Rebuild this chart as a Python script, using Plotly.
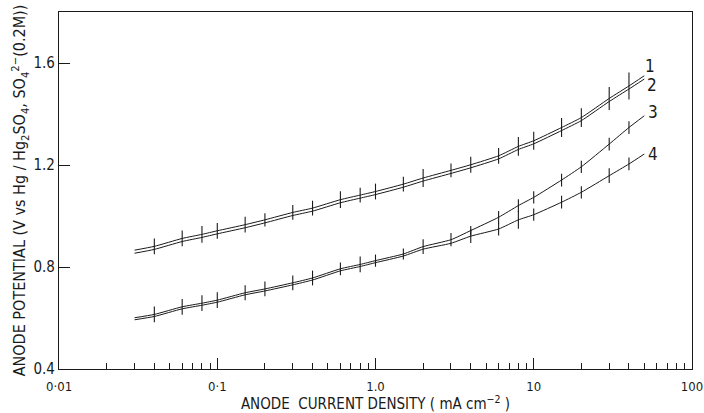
import numpy as np
import plotly.graph_objects as go

# ---------------- data ----------------
current = [0.03, 0.04, 0.06, 0.08, 0.1, 0.15, 0.2, 0.3, 0.4, 0.6, 0.8, 1.0,
           1.5, 2, 3, 4, 6, 8, 10, 15, 20, 30, 40, 50]

curve1 = [0.866, 0.881, 0.912, 0.928, 0.942, 0.966, 0.985, 1.014, 1.031, 1.064,
          1.082, 1.096, 1.125, 1.149, 1.179, 1.201, 1.236, 1.273, 1.295, 1.347,
          1.386, 1.461, 1.510, 1.550]
curve2 = [0.854, 0.869, 0.900, 0.916, 0.930, 0.954, 0.973, 1.002, 1.019, 1.052,
          1.070, 1.084, 1.113, 1.137, 1.167, 1.189, 1.224, 1.261, 1.283, 1.335,
          1.374, 1.449, 1.498, 1.537]
curve3 = [0.601, 0.614, 0.644, 0.658, 0.670, 0.699, 0.714, 0.738, 0.757, 0.793,
          0.810, 0.825, 0.851, 0.880, 0.907, 0.943, 0.995, 1.041, 1.073, 1.141,
          1.193, 1.282, 1.347, 1.393]
curve4 = [0.593, 0.606, 0.636, 0.650, 0.662, 0.691, 0.706, 0.730, 0.749, 0.785,
          0.802, 0.817, 0.843, 0.870, 0.893, 0.921, 0.949, 0.985, 1.005, 1.054,
          1.093, 1.158, 1.204, 1.243]

# scatter half-ranges (V) drawn as vertical bars through the curves
err12 = [0, 0.031, 0.031, 0.033, 0.031, 0.031, 0.026, 0.029, 0.029, 0.033,
         0.029, 0.031, 0.029, 0.035, 0.027, 0.031, 0.031, 0.037, 0.035, 0.037,
         0.037, 0.045, 0.053, 0]
err3 = [0, 0.031, 0.031, 0.031, 0.031, 0.029, 0.029, 0.029, 0.029, 0.025,
        0.031, 0.024, 0.022, 0.029, 0.026, 0.018, 0.025, 0.025, 0.024, 0.025,
        0.024, 0.025, 0.025, 0]
err4 = [0, 0, 0, 0, 0, 0, 0, 0, 0, 0, 0, 0, 0, 0, 0, 0.027, 0.025, 0.035,
        0.024, 0.025, 0.024, 0.029, 0.025, 0]

labels = ["1", "2", "3", "4"]
label_shift = [(6, 10), (8, -6), (9, 4), (9, 0)]

x_tickvals = [0.01, 0.1, 1.0, 10, 100]
x_ticktext = ["0·01", "0·1", "1.0", "10", "100"]
y_tickvals = [0.4, 0.8, 1.2, 1.6]
y_ticktext = ["0.4", "0.8", "1.2", "1.6"]

FONT = "Liberation Sans Narrow, DejaVu Sans Condensed, Arial Narrow, sans-serif"
INK = "#1a1a1a"

fig = go.Figure()


def add_curve(y, err=None):
    ebar = None
    if err is not None:
        ebar = dict(type="data", array=err, symmetric=True, color=INK,
                    thickness=1.1, width=0, visible=True)
    fig.add_trace(go.Scatter(x=current, y=y, mode="lines",
                             line=dict(color=INK, width=1.0, shape="spline",
                                       smoothing=0.5),
                             error_y=ebar, showlegend=False, hoverinfo="skip"))


add_curve(curve1, err12)
add_curve(curve2)
add_curve(curve3, err3)
add_curve(curve4, err4)

for lab, yv, (dx, dy) in zip(labels, [curve1, curve2, curve3, curve4], label_shift):
    fig.add_annotation(x=np.log10(current[-1]), y=yv[-1], xref="x", yref="y",
                       text=lab, showarrow=False, xshift=dx, yshift=dy,
                       xanchor="center", yanchor="middle",
                       font=dict(family=FONT, size=17, color=INK))

minor_vals = [k * 10.0 ** d for d in range(-2, 2) for k in range(2, 10)]

fig.update_xaxes(type="log", range=[-2.0005, 2.0005],
                 tickvals=x_tickvals, ticktext=x_ticktext,
                 ticks="inside", ticklen=11, tickwidth=1.2, tickcolor=INK,
                 minor=dict(tickvals=minor_vals, ticks="inside", ticklen=6,
                            tickwidth=1, tickcolor=INK, showgrid=False),
                 showline=True, linecolor=INK, linewidth=1.2, mirror=True,
                 showgrid=False, zeroline=False, ticklabelstandoff=5,
                 ticklabeloverflow="allow",
                 tickfont=dict(family=FONT, size=13, color=INK),
                 title=dict(text="ANODE  CURRENT DENSITY ( mA cm<sup>−2</sup> )",
                            font=dict(family=FONT, size=15, color=INK),
                            standoff=3))
fig.update_yaxes(range=[0.4, 1.8],
                 tickvals=y_tickvals, ticktext=y_ticktext,
                 ticks="inside", ticklen=11, tickwidth=1.2, tickcolor=INK,
                 showline=True, linecolor=INK, linewidth=1.2, mirror=True,
                 showgrid=False, zeroline=False, ticklabelstandoff=0,
                 tickfont=dict(family=FONT, size=15, color=INK),
                 title=dict(text="ANODE POTENTIAL (V vs Hg / Hg<sub>2</sub>SO<sub>4</sub>, "
                                 "SO<sub>4</sub><sup>2−</sup>(0.2M))",
                            font=dict(family=FONT, size=16, color=INK),
                            standoff=3))

fig.update_layout(width=704, height=413,
                  margin=dict(l=59, r=12, t=12, b=44, autoexpand=False),
                  paper_bgcolor="white", plot_bgcolor="white",
                  showlegend=False)

fig.write_html("out.html")
